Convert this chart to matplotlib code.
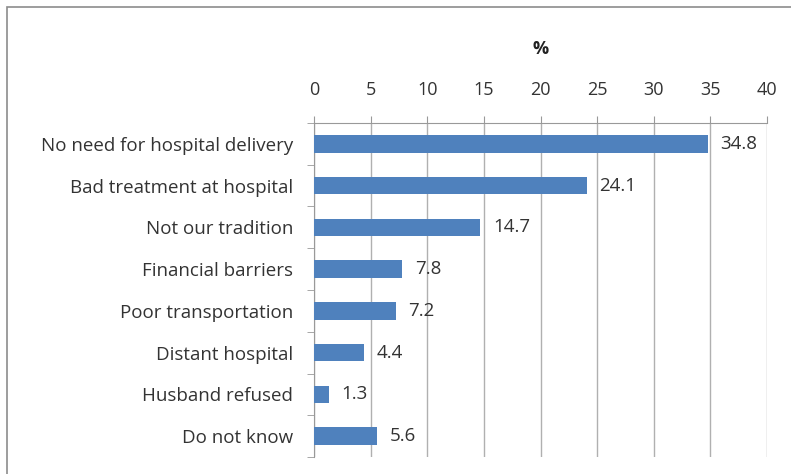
import matplotlib
matplotlib.use('Agg')
import matplotlib.pyplot as plt
from matplotlib.patches import Rectangle
import numpy as np

plt.rcParams['font.family'] = ['Open Sans', 'DejaVu Sans']

reasons = ['No need for hospital delivery', 'Bad treatment at hospital', 'Not our tradition',
           'Financial barriers', 'Poor transportation', 'Distant hospital',
           'Husband refused', 'Do not know']
values = [34.8, 24.1, 14.7, 7.8, 7.2, 4.4, 1.3, 5.6]
xticks = [0, 5, 10, 15, 20, 25, 30, 35, 40]

fig = plt.figure(figsize=(7.91, 4.74), dpi=100)
ax = fig.add_axes([314/791, 1 - 457/474, 453/791, 334/474])

# outer chart frame
fig.patches.append(Rectangle((7/791, -0.1), 1.1, 1 - 7/474 + 0.1, transform=fig.transFigure,
                             fill=False, edgecolor='#8c8c8c', linewidth=1.2))

y = np.arange(len(reasons))
ax.barh(y, values, height=0.42, color='#4F81BD', zorder=3)
for yi, v in zip(y, values):
    ax.text(v + 1.1, yi, f'{v}', va='center', ha='left', fontsize=13.5, color='#333333')

ax.set_ylim(len(reasons) - 0.5, -0.5)
ax.set_xlim(0, 40)
ax.set_yticks(y)
ax.set_yticklabels(reasons, fontsize=13.5, color='#333333')
ax.set_yticks(np.arange(-0.5, len(reasons), 1), minor=True)
ax.tick_params(axis='y', which='major', length=0, pad=15)
ax.tick_params(axis='y', which='minor', length=5, color='#999999')

ax.xaxis.tick_top()
ax.xaxis.set_label_position('top')
ax.set_xticks(xticks)
ax.set_xticklabels([str(t) for t in xticks], fontsize=13, color='#333333')
ax.tick_params(axis='x', length=5, color='#999999', pad=12)
ax.set_xlabel('%', fontsize=13, fontweight='bold', color='#222222', labelpad=20)

ax.grid(axis='x', color='#b0b0b0', linewidth=1, zorder=0)
for s in ['right', 'bottom']:
    ax.spines[s].set_visible(False)
for s in ['left', 'top']:
    ax.spines[s].set_color('#999999')

fig.savefig('out.png', dpi=100)
